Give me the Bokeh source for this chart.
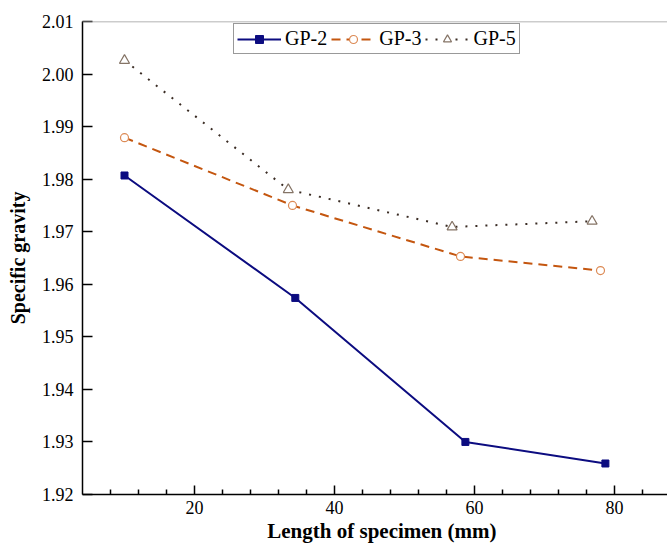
import math
from bokeh.plotting import figure
from bokeh.models import (FixedTicker, PrintfTickFormatter, Span, Title, Range1d)
from bokeh.embed import file_html
from bokeh.resources import INLINE

# ---- data ----
x_gp2 = [10, 34.4, 58.7, 78.7]
y_gp2 = [1.9807, 1.9574, 1.9300, 1.9259]
x_gp3 = [10, 34.0, 58.0, 78.0]
y_gp3 = [1.9879, 1.9750, 1.9653, 1.9626]
x_gp5 = [10, 33.4, 56.8, 76.8]
y_gp5 = [2.0026, 1.9780, 1.9709, 1.9720]

x_major = [20, 40, 60, 80]
x_minor = [8, 12, 16, 24, 28, 32, 36, 44, 48, 52, 56, 64, 68, 72, 76, 84]
y_ticks = [1.92, 1.93, 1.94, 1.95, 1.96, 1.97, 1.98, 1.99, 2.00, 2.01]

FONT = "Liberation Serif"
TICKFONT = "Times"
FRAME_L, FRAME_T, FRAME_W, FRAME_H = 82, 21, 585, 473

p = figure(frame_width=FRAME_W, frame_height=FRAME_H,
           min_border_left=FRAME_L, min_border_top=FRAME_T,
           min_border_right=0, min_border_bottom=546 - FRAME_T - FRAME_H,
           x_range=Range1d(4, 4 + FRAME_W / 7.0), y_range=Range1d(1.92, 2.01),
           output_backend="svg", toolbar_location=None)
p.outline_line_color = None
p.xgrid.visible = False
p.ygrid.visible = False
p.background_fill_color = "white"
p.border_fill_color = "white"

# top border
p.add_layout(Span(location=2.01, dimension="width", line_color="#9a9a9a", line_width=1.5))

# axes
xa = p.xaxis[0]
xa.ticker = FixedTicker(ticks=x_major, minor_ticks=x_minor)
xa.major_tick_in = 9
xa.major_tick_out = 0
xa.minor_tick_in = 5
xa.minor_tick_out = 0
xa.axis_line_width = 1.5
xa.major_tick_line_width = 1.5
xa.minor_tick_line_width = 1.5
xa.axis_line_color = "black"
xa.major_label_standoff = 6

ya = p.yaxis[0]
ya.ticker = FixedTicker(ticks=y_ticks, minor_ticks=[])
ya.formatter = PrintfTickFormatter(format="%.2f")
ya.major_tick_in = 10
ya.major_tick_out = 0
ya.minor_tick_line_color = None
ya.axis_line_width = 1.5
ya.major_tick_line_width = 1.5
ya.axis_line_color = "black"
ya.major_label_standoff = 9
ya.axis_label = "Specific gravity"
ya.axis_label_text_font = FONT
ya.axis_label_text_font_size = "20px"
ya.axis_label_text_font_style = "bold"
ya.axis_label_text_color = "black"
ya.axis_label_standoff = 10

p.axis.major_label_text_font = TICKFONT
p.axis.major_label_text_font_size = "18px"
p.axis.major_label_text_color = "black"

# x-axis title
p.add_layout(Title(text="Length of specimen (mm)", align="right", offset=667 - 496,
                   standoff=0, text_font=FONT, text_font_size="21px",
                   text_font_style="bold", text_color="black"), "below")

# series
c2 = "#0c0c80"
c3 = "#c4560f"
c3m = "#dc8a55"
c5 = "#3a2c24"
c5m = "#857466"

p.line(x_gp2, y_gp2, line_color=c2, line_width=2, legend_label="GP-2")
p.scatter(x_gp2, y_gp2, marker="square", size=7, fill_color=c2, line_color=c2, legend_label="GP-2")

p.line(x_gp3, y_gp3, line_color=c3, line_width=2, line_dash="9 6", legend_label="GP-3")
p.scatter(x_gp3, y_gp3, marker="circle", size=8, fill_color="white", line_color=c3m,
          line_width=1.2, legend_label="GP-3")

p.line(x_gp5, y_gp5, line_color=c5, line_width=2, line_dash="2 8", legend_label="GP-5")
p.scatter(x_gp5, y_gp5, marker="triangle", size=10, fill_color="white", line_color=c5m,
          line_width=1.2, legend_label="GP-5")

lg = p.legend[0]
lg.orientation = "horizontal"
lg.location = (151, 440)
lg.label_text_font = FONT
lg.label_text_font_size = "20px"
lg.label_text_color = "black"
lg.glyph_width = 44
lg.glyph_height = 20
lg.label_standoff = 4
lg.spacing = 4
lg.padding = 3
lg.margin = 0
lg.border_line_color = "#333333"
lg.border_line_width = 1
lg.background_fill_alpha = 1.0

open("out.html", "w").write(file_html(p, INLINE))
